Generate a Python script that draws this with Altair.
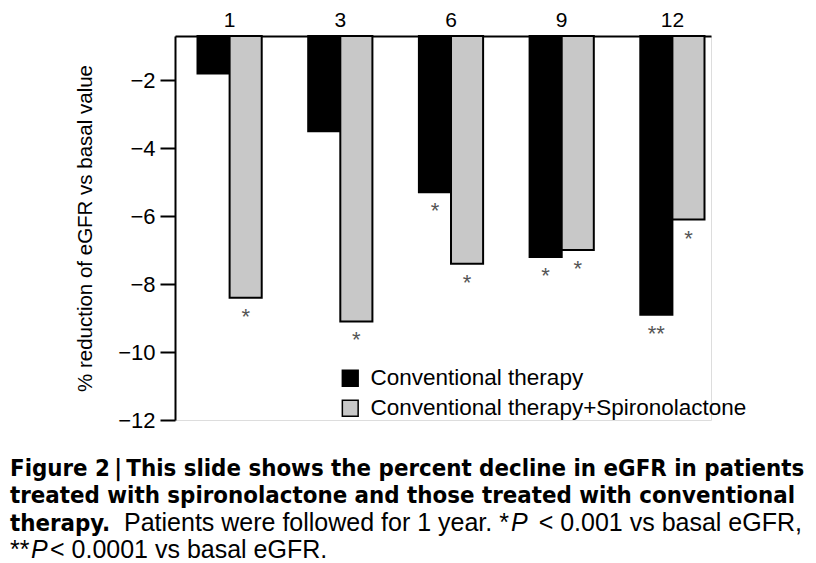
import altair as alt
import pandas as pd

# ---- data ----
months = ["1", "3", "6", "9", "12"]
conventional = [-1.8, -3.5, -5.3, -7.2, -8.9]
spironolactone = [-8.4, -9.1, -7.4, -7.0, -6.1]
sig_conventional = ["", "", "*", "*", "**"]
sig_spironolactone = ["*", "*", "*", "*", "*"]
series_names = ["Conventional therapy", "Conventional therapy+Spironolactone"]
series_colors = ["#000000", "#c8c8c8"]
y_ticks = [-2, -4, -6, -8, -10, -12]
y_title = "% reduction of eGFR vs basal value"

caption_bold_1 = "Figure 2\u2009|\u2009This slide shows the percent decline in eGFR in patients"
caption_bold_2 = "treated with spironolactone and those treated with conventional"
caption_bold_3 = "therapy."
caption_reg_3a = "Patients were followed for 1 year. *"
caption_it_3 = "P"
caption_reg_3b = "< 0.001 vs basal eGFR,"
caption_reg_4a = "**"
caption_it_4 = "P"
caption_reg_4b = "< 0.0001 vs basal eGFR."

rows = []
for i, m in enumerate(months):
    rows.append({"month": m, "group": series_names[0], "value": conventional[i], "sig": sig_conventional[i]})
    rows.append({"month": m, "group": series_names[1], "value": spironolactone[i], "sig": sig_spironolactone[i]})
df = pd.DataFrame(rows)

FONT = "Liberation Sans"
BOLD_FONT = "DejaVu Sans Condensed, Liberation Sans Narrow, Liberation Sans"
REG_FONT = "Liberation Sans"
Y_TOP = -0.7
W, H = 536, 384
LEFT, TOP = 175, 36

x_enc = alt.X(
    "month:N", sort=months,
    scale=alt.Scale(paddingInner=0.42, paddingOuter=0.131, align=0.776),
    axis=alt.Axis(orient="top", title=None, ticks=False, labelAngle=0, labelFontSize=21,
                  labelFont=FONT, labelColor="black", labelPadding=6,
                  domainColor="black", domainWidth=2),
)
y_enc = alt.Y(
    "value:Q",
    scale=alt.Scale(domain=[-12, Y_TOP], nice=False, zero=False),
    axis=alt.Axis(values=y_ticks, title=y_title, titleFont=FONT, titleFontSize=20.5,
                  titleFontWeight="normal", titleColor="black", titlePadding=22,
                  labelFont=FONT, labelFontSize=22, labelColor="black", labelPadding=5,
                  tickSize=15, tickWidth=2, tickColor="black",
                  domainColor="black", domainWidth=2, grid=False),
)
xoff = alt.XOffset("group:N", sort=series_names, scale=alt.Scale(paddingInner=0, paddingOuter=0))

bars = alt.Chart(df).mark_bar(stroke="black", strokeWidth=2).encode(
    x=x_enc, xOffset=xoff, y=y_enc, y2=alt.datum(Y_TOP),
    color=alt.Color(
        "group:N", sort=series_names,
        scale=alt.Scale(domain=series_names, range=series_colors),
        legend=alt.Legend(title=None, orient="none", legendX=164, legendY=331,
                          symbolType="square", symbolSize=250, symbolStrokeColor="black",
                          symbolStrokeWidth=1.5, symbolOpacity=1, labelLimit=0,
                          labelFont=FONT, labelFontSize=22.5, labelColor="black",
                          labelOffset=9, rowPadding=7, padding=0),
    ),
)

sig = alt.Chart(df).mark_text(baseline="middle", dy=19, fontSize=22, color="#555555", font=FONT).encode(
    x=x_enc, xOffset=xoff, y=alt.Y("value:Q"), text="sig:N"
)


def cap(text, x, y, weight="normal", style="normal", font=REG_FONT, size=25, align="left"):
    return alt.Chart(alt.Data(values=[{"t": text}])).mark_text(
        align=align, baseline="alphabetic", font=font, fontSize=size,
        fontWeight=weight, fontStyle=style, color="black",
    ).encode(text="t:N", x=alt.value(x - LEFT), y=alt.value(y - TOP))


captions = [
    cap(caption_bold_1, 10, 476, weight="bold", font=BOLD_FONT, size=23.8),
    cap(caption_bold_2, 10, 503, weight="bold", font=BOLD_FONT, size=23.8),
    cap(caption_bold_3, 10, 531, weight="bold", font=BOLD_FONT, size=23.8),
    cap(caption_reg_3a, 124, 531),
    cap(caption_it_3, 511, 531, style="italic"),
    cap(caption_reg_3b, 802, 531, align="right"),
    cap(caption_reg_4a, 10, 558),
    cap(caption_it_4, 31, 558, style="italic"),
    cap(caption_reg_4b, 50, 558),
]

chart = alt.layer(bars, sig, *captions).properties(
    width=W, height=H,
    autosize=alt.AutoSizeParams(type="none"),
    padding={"left": LEFT, "top": TOP, "right": 816 - LEFT - W, "bottom": 563 - TOP - H},
).configure_view(stroke=None).configure(background="white")

chart.save("out.html", embed_options={"renderer": "svg", "actions": False})
